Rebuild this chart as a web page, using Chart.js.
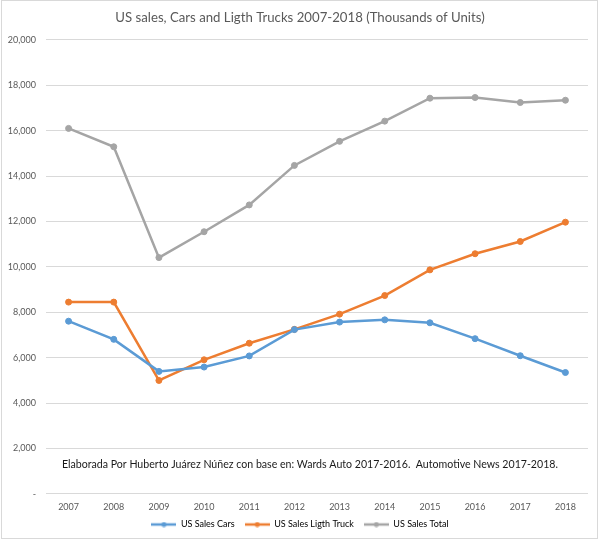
<!DOCTYPE html>
<html>
<head>
<meta charset="utf-8">
<script src="https://cdn.jsdelivr.net/npm/chart.js@4.4.1/dist/chart.umd.min.js"></script>
<style>
  html, body { margin: 0; padding: 0; background: #fff; }
  #wrap { position: relative; width: 600px; height: 541px; }
</style>
</head>
<body>
<div id="wrap"><canvas id="chart"></canvas></div>
<script>
// data (thousands of units)
const years = ['2007', '2008', '2009', '2010', '2011', '2012', '2013', '2014', '2015', '2016', '2017', '2018'];
const salesCars = [7610, 6810, 5400, 5590, 6080, 7240, 7570, 7670, 7540, 6840, 6090, 5350];
const salesTrucks = [8450, 8450, 5000, 5910, 6640, 7250, 7920, 8740, 9870, 10580, 11120, 11970];
const salesTotal = [16100, 15290, 10410, 11550, 12730, 14470, 15530, 16420, 17430, 17460, 17240, 17340];
const seriesNames = ['US Sales Cars', 'US Sales Ligth Truck', 'US Sales Total'];
const seriesColors = ['#5B9BD5', '#ED7D31', '#A5A5A5'];
const yMin = 0;
const yMax = 20000;
const yStep = 2000;

const titleText = 'US sales, Cars and Ligth Trucks 2007-2018 (Thousands of Units)';
const noteText = 'Elaborada Por Huberto Juárez Núñez con base en: Wards Auto 2017-2016.  Automotive News 2017-2018.';

const FONT = 'Lato, "Open Sans", sans-serif';
const GREY_TEXT = '#595959';
const GRID = '#d9d9d9';

// small line + dot used as legend symbol
function legendSymbol(color) {
  const c = document.createElement('canvas');
  c.width = 25;
  c.height = 6;
  const g = c.getContext('2d');
  g.strokeStyle = color;
  g.lineWidth = 2.5;
  g.beginPath();
  g.moveTo(0, 3);
  g.lineTo(25, 3);
  g.stroke();
  g.fillStyle = color;
  g.beginPath();
  g.arc(12.5, 3, 2.5, 0, Math.PI * 2);
  g.fill();
  return c;
}

const frame = {
  id: 'frame',
  beforeDraw(chart) {
    const ctx = chart.ctx;
    ctx.save();
    ctx.fillStyle = '#fff';
    ctx.fillRect(0, 0, chart.width, chart.height);
    ctx.strokeStyle = GRID;
    ctx.lineWidth = 1;
    ctx.strokeRect(1.5, 0.5, chart.width - 4, chart.height - 3);
    ctx.restore();
  }
};

// source note written inside the plot, just above the x axis
const note = {
  id: 'note',
  afterDatasetsDraw(chart) {
    const ctx = chart.ctx;
    const y = chart.scales.y.getPixelForValue(1300);
    ctx.save();
    ctx.font = '10.6px ' + FONT;
    ctx.fillStyle = '#1a1a1a';
    ctx.textAlign = 'left';
    ctx.textBaseline = 'middle';
    ctx.fillText(noteText, 62, y);
    ctx.restore();
  }
};

const seriesData = [salesCars, salesTrucks, salesTotal];

new Chart(document.getElementById('chart'), {
  type: 'line',
  data: {
    labels: years,
    datasets: seriesData.map((values, i) => ({
      label: seriesNames[i],
      data: values,
      borderColor: seriesColors[i],
      backgroundColor: seriesColors[i],
      borderWidth: 2.5,
      pointRadius: 3,
      pointBorderWidth: 1,
      pointHoverRadius: 3,
      pointStyle: 'circle',
      tension: 0
    }))
  },
  options: {
    responsive: true,
    maintainAspectRatio: false,
    animation: false,
    layout: { padding: { top: 0, left: 0, right: 0, bottom: 2 } },
    scales: {
      x: {
        offset: true,
        grid: { display: false },
        border: { display: false },
        ticks: { color: GREY_TEXT, font: { family: FONT, size: 9 }, padding: 0, maxRotation: 0 },
        afterFit(scale) { scale.height = 16; }
      },
      y: {
        min: yMin,
        max: yMax,
        grid: { color: GRID, drawTicks: false },
        border: { display: false },
        ticks: {
          stepSize: yStep,
          color: GREY_TEXT,
          font: { family: FONT, size: 9 },
          padding: 10,
          callback: (v) => v === 0 ? '-' : v.toLocaleString('en-US')
        },
        afterFit(scale) { scale.width = 46; }
      },
      // empty right-hand axis, only keeps a small margin right of the plot
      yRight: {
        position: 'right',
        min: yMin,
        max: yMax,
        grid: { display: false },
        border: { display: false },
        ticks: { display: false },
        afterFit(scale) { scale.width = 12; }
      }
    },
    plugins: {
      title: {
        display: true,
        text: titleText,
        color: GREY_TEXT,
        font: { family: FONT, size: 13.2, weight: 'normal' },
        padding: { top: 10, bottom: 14 }
      },
      legend: {
        position: 'bottom',
        labels: {
          usePointStyle: true,
          pointStyleWidth: 25,
          boxHeight: 6,
          color: GREY_TEXT,
          font: { family: FONT, size: 9 },
          padding: 10,
          generateLabels(chart) {
            return chart.data.datasets.map((ds, i) => ({
              text: ds.label,
              fillStyle: ds.borderColor,
              strokeStyle: ds.borderColor,
              lineWidth: 0,
              pointStyle: legendSymbol(ds.borderColor),
              datasetIndex: i,
              hidden: false
            }));
          }
        }
      },
      tooltip: { enabled: false }
    }
  },
  plugins: [frame, note]
});
</script>
</body>
</html>
